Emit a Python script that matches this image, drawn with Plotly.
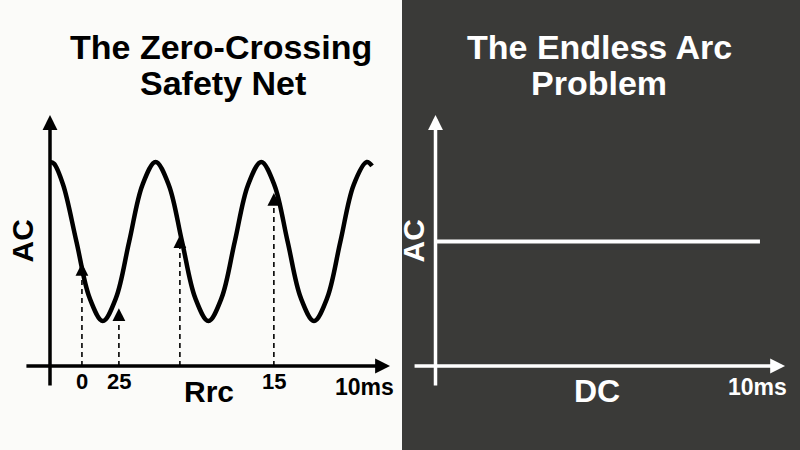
import plotly.graph_objects as go

# ---------------- data ----------------
# left panel: AC wave sampled every eighth of a period (time units = quarter period)
wave_t = [0, 0.15, 0.5, 1, 1.5, 2, 2.5, 3, 3.5, 4, 4.5, 5, 5.5, 6, 6.5, 7, 7.5, 8,
          8.5, 9, 9.5, 10, 10.5, 11, 11.5, 12, 12.2]
wave_v = [1, 0.98, 0.71, 0, -0.71, -1, -0.71, 0, 0.71, 1, 0.71, 0, -0.71, -1,
          -0.71, 0, 0.71, 1, 0.71, 0, -0.71, -1, -0.71, 0, 0.71, 1, 0.95]

# dashed markers (time, tip value, tick label)
mark_t = [1.21, 2.61, 4.92, 8.48]
mark_tip = [-0.27, -0.84, 0.08, 0.61]
mark_label = ["0", "25", "", "15"]

# right panel: constant DC level
dc_t = [0, 12.29]
dc_v = [0, 0]

# axis extents
axis_v = -1.566          # level of time axis
yaxis_lo, yaxis_hi = -1.83, 1.59
left_x_from, left_x_to = -0.95, 12.88
right_x_from, right_x_to = -0.85, 13.24

# ---------------- styling ----------------
LIGHT_BG = "#fbfbf9"
DARK_BG = "#3a3a38"
FONT = "Liberation Sans"

fig = go.Figure()

fig.add_trace(go.Scatter(
    x=wave_t, y=wave_v, mode="lines", line=dict(color="black", width=4.5, shape="spline", smoothing=1),
    xaxis="x", yaxis="y", hoverinfo="skip", showlegend=False))

for t, tip in zip(mark_t, mark_tip):
    fig.add_trace(go.Scatter(
        x=[t, t], y=[axis_v, tip - 0.08], mode="lines",
        line=dict(color="black", width=1.6, dash="5px,4px"),
        xaxis="x", yaxis="y", hoverinfo="skip", showlegend=False))

fig.add_trace(go.Scatter(
    x=dc_t, y=dc_v, mode="lines", line=dict(color="white", width=4),
    xaxis="x2", yaxis="y2", hoverinfo="skip", showlegend=False))

annotations = []

def arrow(x, y, ax, ay, xref, yref, color, width, size, head=2):
    annotations.append(dict(
        x=x, y=y, ax=ax, ay=ay, xref=xref, yref=yref, axref=xref, ayref=yref,
        text="", showarrow=True, arrowhead=head, arrowwidth=width, arrowsize=size,
        arrowcolor=color, standoff=0, startstandoff=0))

# left axes
arrow(0, yaxis_hi, 0, yaxis_lo, "x", "y", "black", 3.5, 0.85)
arrow(left_x_to, axis_v, left_x_from, axis_v, "x", "y", "black", 3.5, 0.85)
# right axes
arrow(0, yaxis_hi, 0, yaxis_lo, "x2", "y2", "white", 3.5, 0.85)
arrow(right_x_to, axis_v, right_x_from, axis_v, "x2", "y2", "white", 3.5, 0.85)
# arrowheads on dashed markers
for t, tip in zip(mark_t, mark_tip):
    arrow(t, tip, t, tip - 0.12, "x", "y", "black", 1.6, 1.6)

def text(s, x, y, size, color, xref="paper", angle=0):
    annotations.append(dict(
        text="<b>" + s + "</b>", x=x, y=y, xref=xref, yref="paper",
        xanchor="center", yanchor="middle", showarrow=False, textangle=angle,
        font=dict(family=FONT, size=size, color=color)))

def py(p):
    return 1 - p / 450.0

# titles
text("The Zero-Crossing", 220.5 / 800, py(47.5), 34, "black")
text("Safety Net", 222.5 / 800, py(82.5), 34, "black")
text("The Endless Arc", 599.5 / 800, py(47.5), 34, "white")
text("Problem", 598.5 / 800, py(82.5), 34, "white")

# tick labels on left panel
for t, lab in zip(mark_t, mark_label):
    if lab:
        text(lab, t, py(381), 22, "black", xref="x")
text("10ms", 364 / 800, py(387), 23, "black")
text("Rrc", 209 / 800, py(391), 30, "black")
text("AC", 22 / 800, py(241.5), 30, "black", angle=-90)

# right panel labels
text("10ms", 757 / 800, py(387), 23, "white")
text("DC", 597 / 800, py(391), 32, "white")
text("AC", 413 / 800, py(241.5), 30, "white", angle=-90)

hidden = dict(visible=False, showgrid=False, zeroline=False, fixedrange=True)

fig.update_layout(
    width=800, height=450,
    margin=dict(l=0, r=0, t=0, b=0),
    paper_bgcolor=LIGHT_BG, plot_bgcolor="rgba(0,0,0,0)",
    xaxis=dict(domain=[0, 0.5], range=[-50 / 26.4, 350 / 26.4], **hidden),
    yaxis=dict(domain=[0, 1], range=[-2.623, 3.038], **hidden),
    xaxis2=dict(domain=[0.5, 1], range=[-35.5 / 26.4, 364.5 / 26.4], anchor="y2", **hidden),
    yaxis2=dict(domain=[0, 1], range=[-2.623, 3.038], anchor="x2", **hidden),
    shapes=[dict(type="rect", xref="paper", yref="paper", x0=402 / 800, x1=1, y0=0, y1=1,
                 fillcolor=DARK_BG, line=dict(width=0), layer="below")],
    annotations=annotations,
    showlegend=False,
)

fig.write_html("out.html", config={"displayModeBar": False},
               post_script="document.body.style.margin='0';document.body.style.overflow='hidden';")
